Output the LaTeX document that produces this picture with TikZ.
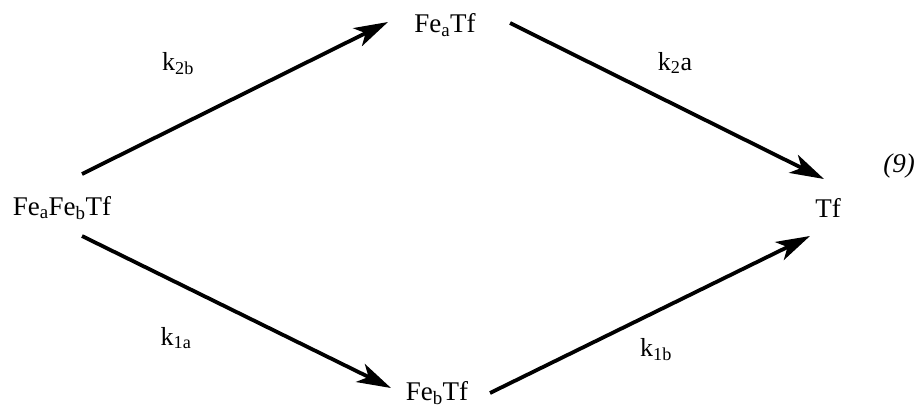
\documentclass[tikz,border=0pt]{standalone}
\usepackage{fontspec}
\setmainfont{Liberation Serif}
\usetikzlibrary{arrows.meta}
\begin{document}
\begin{tikzpicture}[x=1pt,y=-1pt,
  lbl/.style={font=\fontsize{27}{30}\selectfont, inner sep=0pt},
  rate/.style={font=\fontsize{26}{28}\selectfont, inner sep=0pt},
  rx/.style={line width=3.8pt, -{Stealth[length=34pt,width=20pt,inset=9pt]}}]
\useasboundingbox (0,0) rectangle (917,408);
\node[lbl] (ab) at (62,208) {Fe$_{\mathrm{a}}$Fe$_{\mathrm{b}}$Tf};
\node[lbl] (a) at (445,25) {Fe$_{\mathrm{a}}$Tf};
\node[lbl] (b) at (437,393) {Fe$_{\mathrm{b}}$Tf};
\node[lbl] (tf) at (828,208) {Tf};
\node[lbl, font=\fontsize{27}{30}\selectfont\itshape] (eq) at (899,166) {(9)};
\node[rate] (k2b) at (178,64) {k$_{\mathrm{2b}}$};
\node[rate] (k2a) at (675,63) {k$_{\mathrm{2}}$a};
\node[rate] (k1a) at (176,338) {k$_{\mathrm{1a}}$};
\node[rate] (k1b) at (656,350) {k$_{\mathrm{1b}}$};
\coordinate (s1) at (82,174); \coordinate (e1) at (388,22);
\coordinate (s2) at (510,23); \coordinate (e2) at (824,179);
\coordinate (s3) at (82,236); \coordinate (e3) at (391,388);
\coordinate (s4) at (490,393); \coordinate (e4) at (810,236);
\draw[rx] (s1) -- (e1);
\draw[rx] (s2) -- (e2);
\draw[rx] (s3) -- (e3);
\draw[rx] (s4) -- (e4);
\end{tikzpicture}
\end{document}
